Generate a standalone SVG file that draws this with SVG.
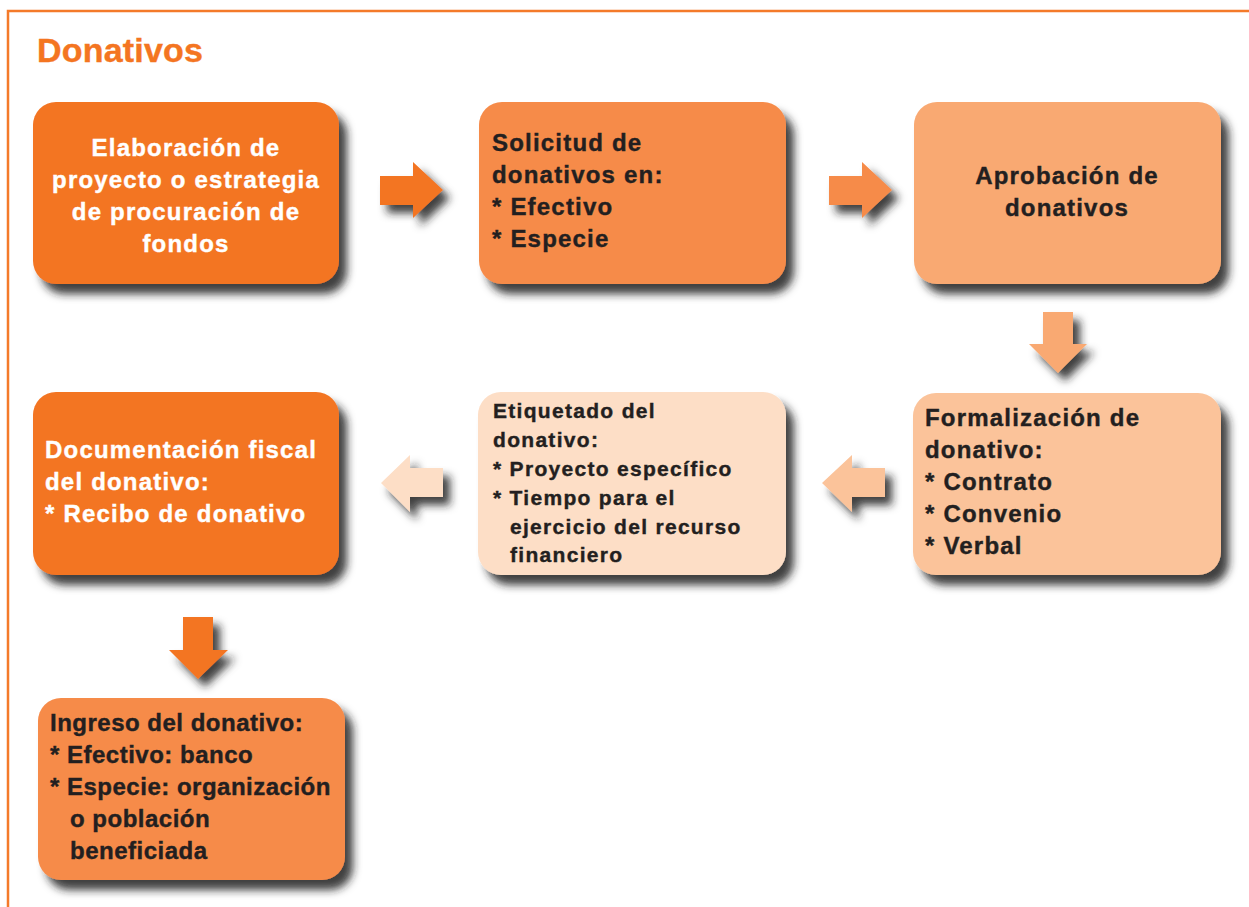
<svg xmlns="http://www.w3.org/2000/svg" width="1249" height="907" viewBox="0 0 1249 907">
<defs>
<filter id="sh" x="-10%" y="-10%" width="130%" height="140%">
<feDropShadow dx="8" dy="10" stdDeviation="4.5" flood-color="#1a1a1a" flood-opacity="0.85"/>
</filter>
<filter id="sha" x="-20%" y="-20%" width="160%" height="160%">
<feDropShadow dx="7" dy="8" stdDeviation="4" flood-color="#1a1a1a" flood-opacity="0.85"/>
</filter>
</defs>
<style>
.t{font-family:"Liberation Sans",Arial,sans-serif;font-weight:bold;font-size:24px;letter-spacing:1.2px;fill:#231f20;stroke:#231f20;stroke-width:0.4px}
.w{fill:#ffffff;stroke:#ffffff}
.s{font-size:21px;letter-spacing:1.3px}
.n{letter-spacing:0.5px}
.c{text-anchor:middle}
.box{filter:url(#sh)}
.arr{filter:url(#sha)}
</style>
<rect width="1249" height="907" fill="#ffffff"/>
<path d="M8 907 V11 H1249" fill="none" stroke="#f47a2a" stroke-width="2.5"/>
<text x="37" y="62" class="t" style="font-size:34px;letter-spacing:0.2px;fill:#f47521;stroke:#f47521">Donativos</text>

<g id="n1">
<rect class="box" x="33" y="102" width="306" height="182" rx="23" fill="#f37423"/>
<text class="t w c" x="186" y="156">Elaboración de</text>
<text class="t w c" x="186" y="188">proyecto o estrategia</text>
<text class="t w c" x="186" y="220">de procuración de</text>
<text class="t w c" x="186" y="252">fondos</text>
</g>
<g id="n2">
<rect class="box" x="479" y="102" width="307" height="182" rx="23" fill="#f68b4a"/>
<text class="t" x="492" y="151">Solicitud de</text>
<text class="t" x="492" y="183">donativos en:</text>
<text class="t" x="492" y="215">* Efectivo</text>
<text class="t" x="492" y="247">* Especie</text>
</g>
<g id="n3">
<rect class="box" x="914" y="102" width="307" height="182" rx="23" fill="#f9a972"/>
<text class="t c" x="1067" y="184">Aprobación de</text>
<text class="t c" x="1067" y="216">donativos</text>
</g>
<g id="n4">
<rect class="box" x="913" y="393" width="308" height="182" rx="23" fill="#fbc39a"/>
<text class="t" x="925" y="426">Formalización de</text>
<text class="t" x="925" y="458">donativo:</text>
<text class="t" x="925" y="490">* Contrato</text>
<text class="t" x="925" y="522">* Convenio</text>
<text class="t" x="925" y="554">* Verbal</text>
</g>
<g id="n5">
<rect class="box" x="478" y="392" width="308" height="183" rx="23" fill="#fddec6"/>
<text class="t s" x="493" y="418">Etiquetado del</text>
<text class="t s" x="493" y="447">donativo:</text>
<text class="t s" x="493" y="476">* Proyecto específico</text>
<text class="t s" x="493" y="505">* Tiempo para el</text>
<text class="t s" x="510" y="534">ejercicio del recurso</text>
<text class="t s" x="510" y="562">financiero</text>
</g>
<g id="n6">
<rect class="box" x="33" y="392" width="306" height="183" rx="23" fill="#f37423"/>
<text class="t w" x="45" y="458">Documentación fiscal</text>
<text class="t w" x="45" y="490">del donativo:</text>
<text class="t w" x="45" y="522">* Recibo de donativo</text>
</g>
<g id="n7">
<rect class="box" x="38" y="698" width="307" height="182" rx="23" fill="#f68b4a"/>
<text class="t n" x="50" y="731">Ingreso del donativo:</text>
<text class="t n" x="50" y="763">* Efectivo: banco</text>
<text class="t n" x="50" y="795">* Especie: organización</text>
<text class="t n" x="70" y="827">o población</text>
<text class="t n" x="70" y="859">beneficiada</text>
</g>

<g id="connectors">
<polygon class="arr" fill="#f37423" points="380,176 413,176 413,162 443,190 413,218 413,205 380,205"/>
<polygon class="arr" fill="#f68b4a" points="829,176 862,176 862,162 892,190 862,218 862,205 829,205"/>
<polygon class="arr" fill="#f9a972" points="1043,312 1073,312 1073,344 1087,344 1058,373 1029,344 1043,344"/>
<polygon class="arr" fill="#fbc39a" points="822,483 852,455 852,468 885,468 885,497 852,497 852,512"/>
<polygon class="arr" fill="#fddec6" points="381,483 410,455 410,468 443,468 443,497 410,497 410,512"/>
<polygon class="arr" fill="#f37423" points="183,617 213,617 213,650 228,650 198,679 169,650 183,650"/>
</g>
</svg>
